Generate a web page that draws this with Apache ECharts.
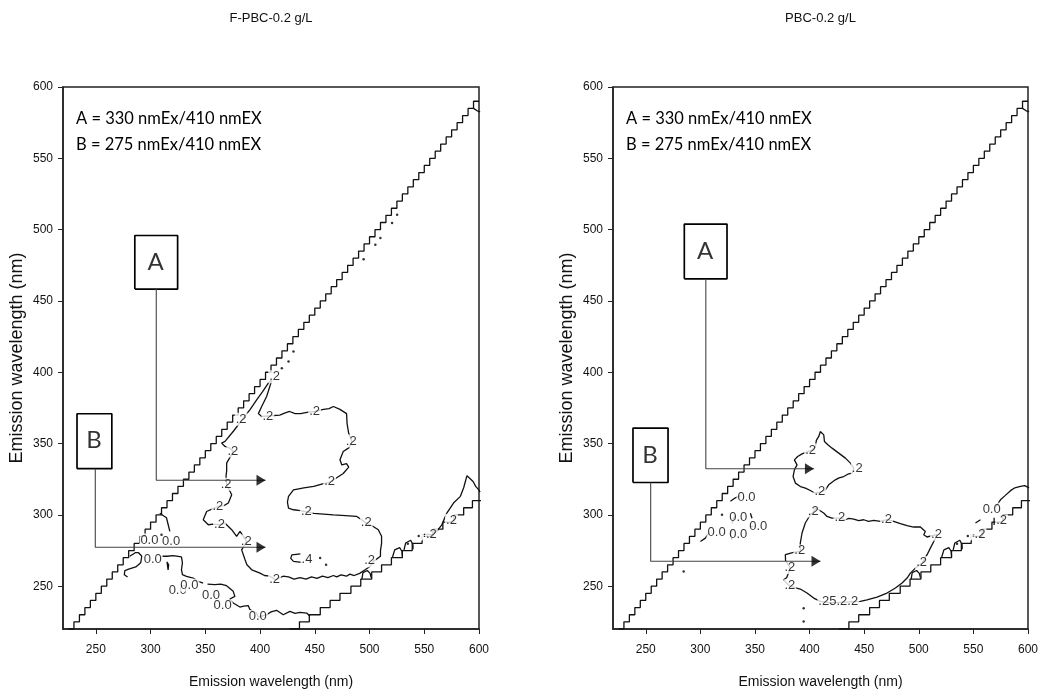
<!DOCTYPE html>
<html>
<head>
<meta charset="utf-8">
<title>EEM contour</title>
<script src="https://cdn.jsdelivr.net/npm/echarts@6/dist/echarts.min.js"></script>
<style>
  html, body { margin: 0; padding: 0; background: #fff; }
  #main { width: 1041px; height: 697px; }
</style>
</head>
<body>
<div id="main"></div>
<script>
// ---- data (wavelengths in nm) ----
var tickValues = [250, 300, 350, 400, 450, 500, 550, 600];
var panelTitles = ['F-PBC-0.2 g/L', 'PBC-0.2 g/L'];
var noteLines = ['A = 330 nmEx/410 nmEX', 'B = 275 nmEx/410 nmEX'];

// scatter-line borders of the masked region (same in both panels)
var upperStair = [[225,220],[230,225],[235,230],[240,235],[245,240],[250,245],[255,250],[260,255],[265,260],[270,265],
  [275,270],[280,275],[285,280],[290,285],[295,290],[300,295],[305,300],[310,305],[315,310],[320,315],
  [325,320],[330,325],[335,330],[340,335],[345,340],[350,345],[355,350],[360,355],[365,360],[370,365],
  [375,370],[380,375],[385,380],[390,385],[395,390],[400,395],[405,400],[410,405],[415,410],[420,415],
  [425,420],[430,425],[435,430],[440,435],[445,440],[450,445],[455,450],[460,455],[465,460],[470,465],
  [475,470],[480,475],[485,480],[490,485],[495,490],[500,495],[505,500],[510,505],[515,510],[520,515],
  [525,520],[530,525],[535,530],[540,535],[545,540],[550,545],[555,550],[560,555],[565,560],[570,565],
  [575,570],[580,575],[585,580],[590,585],[595,590],[600,590]];
var lowerStair = [[427,220],[436,225],[445,230],[455,235],[464,240],[473,245],[483,250],[492,255],[502,260],[511,265],
  [520,270],[530,275],[539,280],[548,285],[558,290],[567,295],[577,300],[586,305],[594,310],[603,315]];
var cornerLoop = [[595,585],[598,583.5],[601,582.5]];
var stairArches = [
  [[493,255],[494,259.5],[498,261],[500.5,259],[501.5,256]],
  [[521,270.5],[523,275.5],[527.5,277],[529.6,274.5],[530,271]],
  [[531.5,275.5],[533,280.3],[537.6,282.2],[539.7,279.1],[539.7,276]]
];
var stairDots = [[535,279.8],[544.9,285.2]];
var stairRings = [[544.9,285.2]];

// ---- F-PBC panel ----
var fMain = [[411,395],[406,383],[401.5,376],[398.5,371],[401.5,369],[410,369.5],[418,370],[423,371.5],[427,372.5],[432,371],
  [437,371],[444,372],[450,372.5],[458,374],[463,374.5],[467,376],[473,374],[479,371],[479.5,364],[481,357],
  [484,351.5],[481,347],[476,344.5],[473,338.6],[474.7,335],[479,336],[481,333.5],[476,329],[470,326],[464,323],
  [458,322],[449,320],[440,319],[430.5,317.6],[426,313],[425,309],[426,304.7],[430.5,303.6],[437,303],[443,302],
  [449,301],[458,300.5],[467,300],[478,299.5],[488,299],[493,296.5],[497.5,294],[503,292],[508,289.6],[511,285],
  [511,280],[510,275],[510,271],[503.6,267.4],[500.6,264],[496,261.5],[491,259],[486,257.5],[482,258.5],[479,257],
  [474,258],[470,256.5],[467,257.5],[462,256],[457,257],[452,255.5],[447,256.5],[442,255],[436.6,256],[431,255],
  [426,256.5],[421,257],[414,254.5],[409,257],[404,257.5],[400,259.2],[392.4,261.5],[388,265],[386.3,268.5],[383.2,275.5],
  [387.8,281.4],[381.7,288.4],[378.6,284.9],[374.1,289.6],[368,294.2],[363.4,293.1],[357,293.5],[352.7,293.1],[348.1,296.6],[351.2,302.4],
  [356,304],[361.9,305.9],[367,306.5],[371,308.3],[374.1,314.1],[369.5,321.1],[368.9,326.9],[369.5,331],[369.5,336.3],[375.6,344.5],
  [372.5,346.8],[368,348],[364.9,350.3],[368,351.5],[376,359],[384.7,367.8],[391,374],[396.9,380.7],[402,386],[407.6,392.4],[411,395]];
var fMainLabels = [[383.2,366.7,'.2'],[375.6,344.5,'.2'],[369.5,321.1,'.2'],[361.9,305.9,'.2'],[363.4,293.1,'.2'],
  [387.8,281.4,'.2'],[413.7,254.5,'.2'],[500.6,267.4,'.2'],[497.5,294.2,'.2'],[442.7,302.4,'.2'],
  [464,323.4,'.2'],[483.8,351.5,'.2'],[450.3,372.5,'.2'],[407.6,369,'.2'],[413.8,396.5,'.2']];
var fPeak = [[437,272.7],[429,272],[428,269.5],[430.5,267.4],[438,266.7]];
var fStairSide = [[547.5,286],[552,286.5],[557,286],[562,289],[566,293],[570.6,301.3],[576.7,308.3],[583,313],[586,319],
  [589,327.5],[591,326],[594.6,323.4],[597,320],[599.6,317.7],[601,316]];
var fZeroA = [[308.4,301.2],[314.5,298],[316.1,293.1],[317.6,288.4]];
var fZeroLoop = [[281,271],[286,273.5],[289,273.5],[292,271],[291,266.5],[286.5,263.5],[280,262],[276.5,261],[276,258],[279,256.5]];
var fZeroB = [[310,271],[315,271],[320.6,271.4],[328.2,270.5],[329.1,266.3],[328.2,261.6],[329.1,258.1],[332.8,256.9],[338.9,255.7],[343.5,253.4],[348,252.2]];
var fZeroC = [[352,251.5],[358.7,251.1],[364,251.5],[369.4,250.4],[375.5,246.4],[377,242.9],[372.4,241],[375.5,238.2],[381.6,235.4],[385,236],
  [389.2,236.4],[390.7,233.6],[396.8,231.2],[398.4,228.4],[406,230],[410,232],[415.1,233.1],[421.2,230],[427.3,232.4],[432,231],
  [436.5,231.7],[442.6,231.2],[445.6,228.9]];
var fZeroOval = [[315,267],[316.5,265],[316,261.5],[314.3,262.5],[315,267]];
var fOtherLabels = [[443.3,268.5,'.4'],[557,286.3,'.2'],[575.3,295.8,'.2'],
  [299.4,282.1,'0.0'],[319.2,280.9,'0.0'],[302.4,268.5,'0.0'],[325.2,246.4,'0.0'],[335.9,250.4,'0.0'],
  [355.7,242.9,'0.0'],[366.3,235.9,'0.0'],[398.4,228.4,'0.0']];
var fDots = [[454.9,269.7],[460.3,265],[310,286],[419.9,402.9],[426,407.6],[430.5,414.6],
  [494.6,479.3],[505.3,489.4],[509.9,494.1],[520.6,504.6],[525.2,510.4]];

// ---- PBC panel ----
var pUpper = [[409.9,358.5],[413,356.1],[413.6,351.5],[417,349],[420.6,346.8],[426.7,343.3],[432.8,339.8],[437.4,336.3],[440.4,332.8],[438.9,329.3],
  [435,328.5],[431.3,326.9],[427,326],[423.6,324.6],[417.5,321.1],[414.5,317.6],[409.9,315.9],[405.3,315.2],[400.7,317.1],[396.2,318.8],
  [391.6,319.9],[387,322.3],[384.9,326.9],[386.1,331.6],[388.5,335.1],[386.1,338.6],[389.1,340.9],[393.1,342.8],[401.4,345.2],[405.3,347.5],
  [406.2,352.2],[408.4,355],[409.9,358.5]];
var pUpperLabels = [[444.1,332.1,'.2'],[409.9,315.9,'.2'],[401.4,345.2,'.2']];
var pLower = [[403.8,302.4],[405.3,304.8],[408.3,303.6],[412.9,301.3],[416,298.9],[420.5,297.8],[428.2,297.8],[432.8,296.6],[436,297.5],[440.4,297.1],
  [445,296],[449.6,296.6],[454,295.5],[458.7,296.1],[464.8,295.4],[470.9,296.6],[477,295.4],[483.1,293.8],[489.3,292.4],[495.3,291.5],
  [501.5,291.5],[506,288.4],[504.5,286.1],[507.6,284.5],[512.2,285.4],[516.7,286.1],[513.7,281.4],[510.6,276.7],[507.6,272.1],[503,266.2],
  [496.9,262.7],[492.3,259.2],[489.3,255.7],[484.7,252.2],[478.6,248.7],[470.9,245.2],[461.8,242.4],[452.6,240.5],[446.5,239.4],[436,239],
  [426.7,238.7],[418,238.5],[409.9,239.4],[403.8,241.7],[397.6,245.2],[391.5,248],[382.4,249.9],[379,252],[376.3,254.5],[379,256],
  [382.4,262.7],[378,268],[377.8,272.1],[385.4,273.7],[391.5,274.4],[391.5,280.2],[393.1,287.3],[396.1,294.3],[400.7,300.1],[403.8,302.4]];
var pLowerLabels = [[403.8,302.4,'.2'],[428.2,297.8,'.2'],[470.9,296.6,'.2'],[516.7,286.1,'.2'],[503,266.2,'.2'],
  [426.7,238.7,'.25.2.2'],[382.4,249.9,'.2'],[382.4,262.7,'.2'],[391.5,274.4,'.2']];
var pZeroLines = [
  [[327.5,309.5],[332,312],[336.6,313.5]],
  [[329,294],[330.5,297.5],[332.5,300]],
  [[345.8,301.2],[347.3,297.7]],
  [[345.5,291.9],[348.5,291.9]],
  [[329,289.6],[327.5,286],[329,282.5]],
  [[300,281.4],[304.6,283.7],[307.6,287.2]]
];
var pStairSide = [[570,305],[574.8,310.6],[579,313.5],[584,317],[588,319],[593.1,320],[597,320.5],[601,319]];
var pStairTicks = [[[547.5,286],[551.5,286]], [[551.9,294.3],[556.5,296.6]], [[569,293],[569,298]]];
var pOtherLabels = [[342.7,311.7,'0.0'],[335.1,297.7,'0.0'],[353.4,291.9,'0.0'],[315.3,287.2,'0.0'],[335.1,286.1,'0.0'],
  [556.5,286.1,'.2'],[567.2,303.7,'0.0'],[576.3,295.5,'.2']];
var pDots = [[319.8,300.1],[284.7,260.4],[394.6,234.6],[394.6,225.3]];
var pRings = [[434.3,269.7]];

// callouts: box [x0, x1, y0, y1], elbow at (x, y), arrow tip at tip
var callouts = [
  [{ name: 'A', box: [285.6, 324.7, 458.3, 495.9], x: 305.2, y: 324.3, tip: 405 },
   { name: 'B', box: [232.8, 264.6, 332.4, 370.9], x: 249.5, y: 277.3, tip: 405 }],
  [{ name: 'A', box: [285.3, 324.4, 465.5, 503.9], x: 305, y: 332.3, tip: 404 },
   { name: 'B', box: [238.3, 270.4, 322.7, 360.9], x: 254.5, y: 267.5, tip: 410 }]
];

// ---- chart ----
var FONT = '"Liberation Sans", Arial, sans-serif';
var INK = '#000';
var CLEAR = 'rgba(0,0,0,0)';
var grids = [
  { left: 63, top: 87, width: 416, height: 542 },
  { left: 613, top: 87, width: 415, height: 542 }
];

function lineS(data, i, extra) {
  var s = {
    type: 'line', data: data, xAxisIndex: i, yAxisIndex: i,
    symbol: 'none', silent: true, z: 2,
    lineStyle: { color: '#111', width: 1.3 }
  };
  for (var k in extra) s[k] = extra[k];
  return s;
}
function labelS(data, i, size, fam) {
  return {
    type: 'scatter', data: data, xAxisIndex: i, yAxisIndex: i,
    symbolSize: 1, itemStyle: { color: CLEAR }, silent: true, z: 6,
    label: {
      show: true, position: [0, 0], align: 'center', verticalAlign: 'middle',
      formatter: function (p) { return p.data[2]; },
      fontSize: size || 13, fontFamily: fam || FONT, color: INK, textBorderWidth: 0,
      backgroundColor: '#fff', padding: [0, 1]
    }
  };
}
function dotS(data, i, size) {
  return { type: 'scatter', data: data, xAxisIndex: i, yAxisIndex: i, symbolSize: size || 2.5,
    itemStyle: { color: INK }, silent: true, z: 7 };
}
function ringS(data, i, size) {
  return { type: 'scatter', data: data, xAxisIndex: i, yAxisIndex: i, symbol: 'emptyCircle', symbolSize: size || 8,
    itemStyle: { color: '#fff', borderColor: INK, borderWidth: 1 }, silent: true, z: 6 };
}

var series = [];
[0, 1].forEach(function (i) {
  series.push(lineS(upperStair, i, { step: 'end' }));
  series.push(lineS(lowerStair, i, { step: 'end' }));
  series.push(lineS(cornerLoop, i));
  stairArches.forEach(function (a) { series.push(lineS(a, i)); });
  series.push(ringS(stairRings, i, 9));
  series.push(dotS(stairDots, i, 2.5));
  callouts[i].forEach(function (c) {
    var b = c.box;
    series.push(lineS([[b[0], b[2]], [b[1], b[2]], [b[1], b[3]], [b[0], b[3]], [b[0], b[2]]], i,
      { lineStyle: { color: INK, width: 1.7 }, z: 8 }));
    series.push(lineS([[c.x, b[2]], [c.x, c.y], [c.tip, c.y]], i,
      { lineStyle: { color: '#444', width: 1.1 }, z: 8 }));
    series.push({
      type: 'scatter', data: [[c.tip, c.y]], xAxisIndex: i, yAxisIndex: i, silent: true, z: 9,
      symbol: 'path://M0,0L10,5L0,10Z', symbolSize: [9, 11], symbolOffset: [-4.5, 0],
      itemStyle: { color: '#000' }
    });
    series.push({
      type: 'scatter', data: [[(b[0] + b[1]) / 2, (b[2] + b[3]) / 2, c.name]], xAxisIndex: i, yAxisIndex: i,
      symbolSize: 1, itemStyle: { color: CLEAR }, silent: true, z: 9,
      label: { show: true, position: [0, 0], align: 'center', verticalAlign: 'middle',
        formatter: function (p) { return p.data[2]; }, textBorderWidth: 0,
        fontSize: 24, fontFamily: 'Lato, "Open Sans", sans-serif', color: INK }
    });
  });
});

// F-PBC panel
[fMain, fPeak, fStairSide, fZeroA, fZeroLoop, fZeroB, fZeroC, fZeroOval].forEach(function (d) {
  series.push(lineS(d, 0));
});
series.push(labelS(fMainLabels, 0));
series.push(labelS(fOtherLabels, 0));
series.push(dotS(fDots, 0, 2.5));

// PBC panel
series.push(lineS(pUpper, 1));
series.push(lineS(pLower, 1));
pZeroLines.forEach(function (d) { series.push(lineS(d, 1)); });
series.push(lineS(pStairSide, 1));
pStairTicks.forEach(function (d) { series.push(lineS(d, 1)); });
series.push(labelS(pUpperLabels, 1));
series.push(labelS(pLowerLabels, 1));
series.push(labelS(pOtherLabels, 1));
series.push(dotS(pDots, 1, 2.5));
series.push(ringS(pRings, 1, 5));

function xAxisFor(i) {
  return {
    type: 'value', gridIndex: i, min: 220, max: 600,
    axisLine: { show: true, onZero: false, lineStyle: { color: '#222', width: 1.5 } },
    axisTick: { show: true, customValues: tickValues, length: 5, lineStyle: { color: '#222' } },
    axisLabel: { customValues: tickValues, margin: 15, fontSize: 12, color: '#111', fontFamily: FONT },
    splitLine: { show: false },
    name: 'Emission wavelength (nm)', nameLocation: 'middle', nameGap: 46,
    nameTextStyle: { fontSize: 14, color: '#111', fontFamily: FONT }
  };
}
function yAxisFor(i) {
  return {
    type: 'value', gridIndex: i, min: 220, max: 600,
    axisLine: { show: true, onZero: false, lineStyle: { color: '#222', width: 1.5 } },
    axisTick: { show: true, customValues: tickValues, length: 5, lineStyle: { color: '#222' } },
    axisLabel: { customValues: tickValues, margin: 10, fontSize: 12, color: '#111', fontFamily: FONT },
    splitLine: { show: false },
    name: 'Emission wavelength (nm)', nameLocation: 'middle', nameGap: 37,
    nameTextStyle: { fontSize: 18, color: '#111', fontFamily: FONT }
  };
}

var graphics = [];
grids.forEach(function (g, i) {
  graphics.push({
    type: 'text', x: g.left + g.width / 2, y: 18, silent: true,
    style: { text: panelTitles[i], font: '13px ' + FONT, fill: '#111', align: 'center', verticalAlign: 'middle' }
  });
  noteLines.forEach(function (t, k) {
    graphics.push({
      type: 'text', x: g.left + 13, y: 119 + k * 26, silent: true, z: 10,
      style: { text: t, font: '16.5px Lato, "Open Sans", sans-serif', fill: INK, verticalAlign: 'middle' }
    });
  });
});

var chart = echarts.init(document.getElementById('main'));
chart.setOption({
  animation: false,
  backgroundColor: '#fff',
  grid: grids.map(function (g) {
    return { left: g.left, top: g.top, width: g.width, height: g.height,
      show: true, borderColor: '#222', borderWidth: 1.5, containLabel: false };
  }),
  xAxis: [xAxisFor(0), xAxisFor(1)],
  yAxis: [yAxisFor(0), yAxisFor(1)],
  series: series,
  graphic: graphics
});
</script>
</body>
</html>
